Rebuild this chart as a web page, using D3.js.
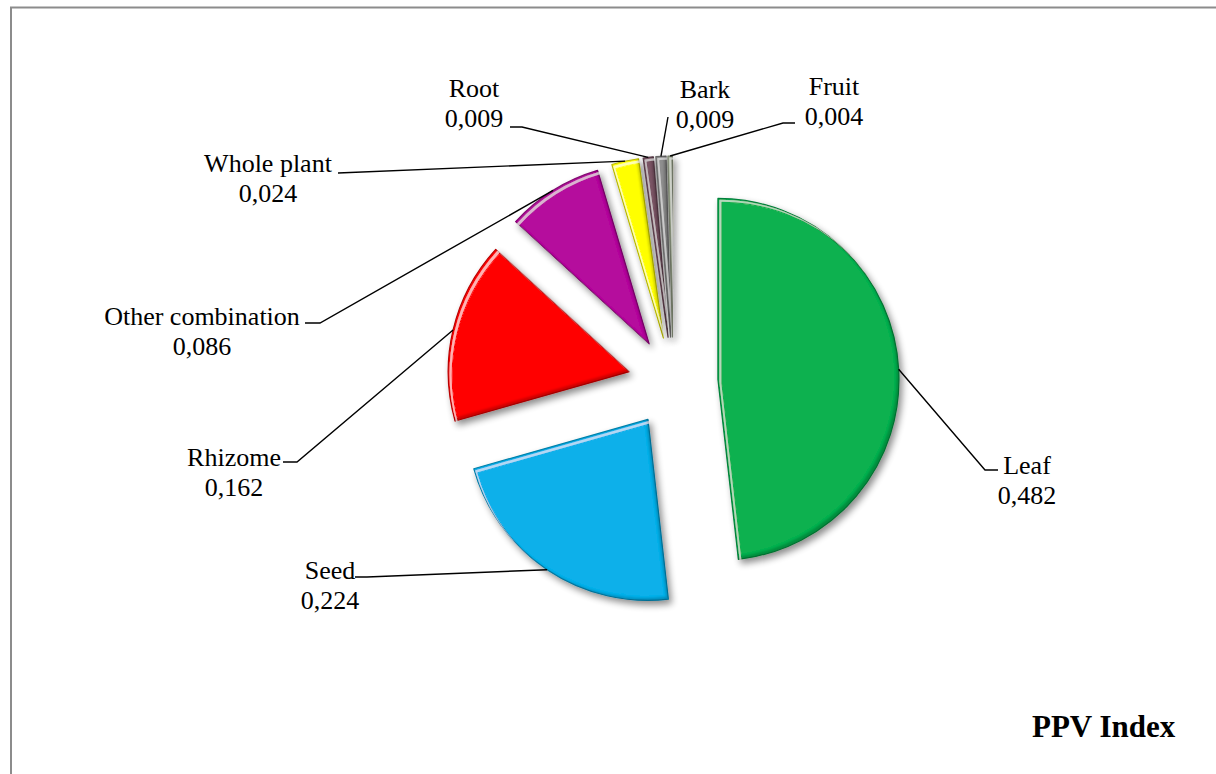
<!DOCTYPE html>
<html><head><meta charset="utf-8">
<script src="https://cdn.jsdelivr.net/npm/d3@7"></script>
<style>
body{margin:0;background:#fff}
svg{display:block}
text{font-family:"Liberation Serif","Times New Roman",serif;fill:#000}
</style>
</head><body>
<svg id="chart" width="1216" height="774"></svg>
<script>
// ---- data ----
const categories = ["Leaf", "Seed", "Rhizome", "Other combination", "Whole plant", "Root", "Bark", "Fruit"];
const values = [0.482, 0.224, 0.162, 0.086, 0.024, 0.009, 0.009, 0.004];
const colors = ["#08B150", "#08B0EA", "#FF0000", "#B5119D", "#FFFF00", "#7A5465", "#8E8E8E", "#A9B59A"];
const chartTitle = "PPV Index";

// ---- layout (label placement, not data) ----
const cx = 673, cy = 382, R = 181, explode = 45;
const labelLayout = [
  {tx: 1027, ty: 474, elbow: [985, 470], end: [998, 470]},
  {tx: 330, ty: 579, elbow: [367, 577], end: [355, 577]},
  {tx: 234, ty: 466, elbow: [297, 462], end: [283, 462]},
  {tx: 202, ty: 325, elbow: [320, 323], end: [305, 323]},
  {tx: 268, ty: 172, elbow: [338, 173], end: [338, 173]},
  {tx: 474, ty: 97, elbow: [522, 127], end: [510, 127]},
  {tx: 705, ty: 98, elbow: [668, 117], end: [668, 117]},
  {tx: 834, ty: 95, elbow: [783, 123], end: [795, 123]}
];
const lineGap = 30;

const svg = d3.select("#chart");
const fmt = v => d3.format(".3f")(v).replace(".", ",");

// border
svg.append("rect").attr("x", 11).attr("y", 7.5).attr("width", 1400).attr("height", 1000)
  .attr("fill", "none").attr("stroke", "#8c8c8c").attr("stroke-width", 2);

// filter for bevel + shadow
const defs = svg.append("defs");
const f = defs.append("filter").attr("id", "bevel")
  .attr("filterUnits", "userSpaceOnUse").attr("x", -1300).attr("y", -900).attr("width", 2600).attr("height", 1800);
f.append("feGaussianBlur").attr("in", "SourceAlpha").attr("stdDeviation", 3.5).attr("result", "b");
f.append("feOffset").attr("in", "b").attr("dx", 3).attr("dy", 4).attr("result", "ob");
f.append("feComponentTransfer").attr("in", "ob").attr("result", "shadow")
  .append("feFuncA").attr("type", "linear").attr("slope", 0.45);
// dark bottom-right bevel
f.append("feOffset").attr("in", "SourceAlpha").attr("dx", -3).attr("dy", -3).attr("result", "o1");
f.append("feComposite").attr("in", "SourceAlpha").attr("in2", "o1").attr("operator", "out").attr("result", "band1");
f.append("feGaussianBlur").attr("in", "band1").attr("stdDeviation", 0.8).attr("result", "band1b");
f.append("feFlood").attr("flood-color", "#000").attr("flood-opacity", 0.4).attr("result", "fd");
f.append("feComposite").attr("in", "fd").attr("in2", "band1b").attr("operator", "in").attr("result", "dark0");
f.append("feComposite").attr("in", "dark0").attr("in2", "SourceAlpha").attr("operator", "in").attr("result", "dark");
// light inset highlight top-left
f.append("feOffset").attr("in", "SourceAlpha").attr("dx", 1.5).attr("dy", 1.5).attr("result", "o2");
f.append("feOffset").attr("in", "SourceAlpha").attr("dx", 3.5).attr("dy", 3.5).attr("result", "o3");
f.append("feComposite").attr("in", "o2").attr("in2", "o3").attr("operator", "out").attr("result", "band2a");
f.append("feComposite").attr("in", "band2a").attr("in2", "SourceAlpha").attr("operator", "in").attr("result", "band2");
f.append("feGaussianBlur").attr("in", "band2").attr("stdDeviation", 0.5).attr("result", "band2b");
f.append("feFlood").attr("flood-color", "#fff").attr("flood-opacity", 0.45).attr("result", "fl");
f.append("feComposite").attr("in", "fl").attr("in2", "band2b").attr("operator", "in").attr("result", "light");
const m = f.append("feMerge");
["shadow", "SourceGraphic", "dark", "light"].forEach(n => m.append("feMergeNode").attr("in", n));

const pie = d3.pie().sort(null).value(d => d)(values);
const arc = d3.arc().innerRadius(0).outerRadius(R);
const dir = a => [Math.sin(a), -Math.cos(a)];

const g = svg.append("g").attr("transform", `translate(${cx},${cy})`);
g.selectAll("path.slice").data(pie).join("path")
  .attr("class", "slice")
  .attr("transform", d => {
    const [dx, dy] = dir((d.startAngle + d.endAngle) / 2);
    return `translate(${dx * explode},${dy * explode})`;
  })
  .attr("d", arc)
  .attr("fill", (d, i) => colors[i])
  .attr("stroke", (d, i) => d3.color(colors[i]).darker(0.9))
  .attr("stroke-width", 1.2)
  .attr("stroke-linejoin", "round")
  .attr("filter", "url(#bevel)");

// leader lines
const line = d3.line();
svg.selectAll("path.leader").data(pie).join("path")
  .attr("class", "leader")
  .attr("d", (d, i) => {
    const [dx, dy] = dir((d.startAngle + d.endAngle) / 2);
    const p = [cx + dx * (explode + R), cy + dy * (explode + R)];
    const L = labelLayout[i];
    return line([p, L.elbow, L.end]);
  })
  .attr("fill", "none").attr("stroke", "#000").attr("stroke-width", 1.4);

// labels
const lbl = svg.selectAll("text.lbl").data(pie).join("text")
  .attr("class", "lbl")
  .attr("text-anchor", "middle")
  .attr("font-size", 26);
lbl.append("tspan").attr("x", (d, i) => labelLayout[i].tx).attr("y", (d, i) => labelLayout[i].ty)
  .text((d, i) => categories[i]);
lbl.append("tspan").attr("x", (d, i) => labelLayout[i].tx).attr("y", (d, i) => labelLayout[i].ty + lineGap)
  .text(d => fmt(d.data));

svg.append("text").attr("x", 1032).attr("y", 737).attr("font-size", 31).attr("font-weight", "bold")
  .text(chartTitle);
</script>
</body></html>
